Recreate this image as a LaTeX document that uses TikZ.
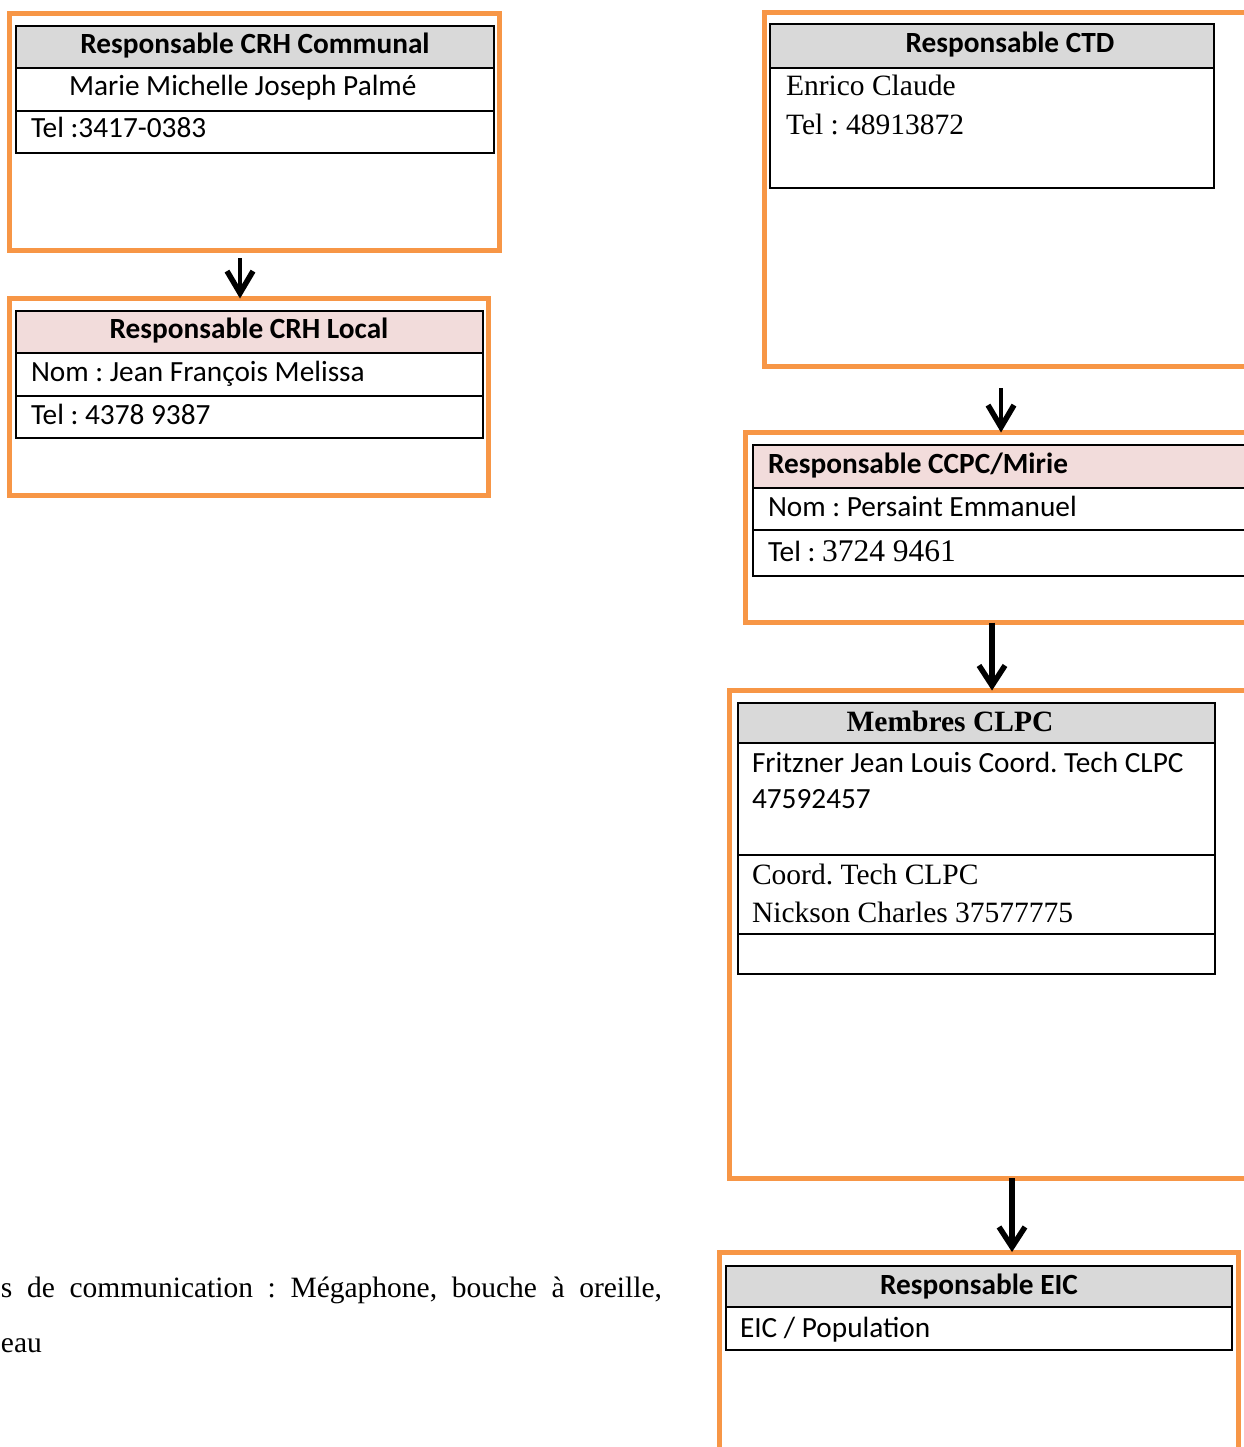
\documentclass[tikz,border=0pt]{standalone}
\usepackage{fontspec}
\setmainfont{Carlito}
\newfontfamily\tnr{Liberation Serif}
\usetikzlibrary{arrows.meta}
\frenchspacing
\definecolor{frameorange}{HTML}{F79646}
\definecolor{headgray}{HTML}{D9D9D9}
\definecolor{headpink}{HTML}{F2DCDB}
\tikzset{
  frame/.style={draw=frameorange, line width=5pt, rectangle, inner sep=0pt, outer sep=0pt, anchor=north west},
  cell/.style={draw=black, line width=2pt, rectangle, inner sep=0pt, outer sep=0pt, anchor=north west},
  hgray/.style={cell, fill=headgray},
  hpink/.style={cell, fill=headpink},
  txt/.style={inner sep=0pt, outer sep=0pt, font=\fontsize{29.3}{34}\selectfont},
  txtb/.style={txt, font=\fontsize{29.3}{34}\selectfont\bfseries},
  ser/.style={inner sep=0pt, outer sep=0pt, font=\fontsize{29.5}{34}\selectfont\tnr},
  serb/.style={ser, font=\fontsize{29.5}{34}\selectfont\tnr\bfseries},
  arr/.style={line width=4.5pt, -{Straight Barb[length=22pt,width=26pt,line width=5.5pt]}},
  arrb/.style={line width=5.5pt, -{Straight Barb[length=20pt,width=26pt,line width=5.5pt]}}
}
\begin{document}
\begin{tikzpicture}[x=1pt,y=-1pt]
\useasboundingbox (0,0) rectangle (1243,1447);
% ---------- Frame 1 : CRH Communal
\node[frame, minimum width=489.5pt, minimum height=237pt] (f1) at (9.5,13.5) {};
\node[hgray, minimum width=478pt, minimum height=42pt] (t1h) at (16,26) {};
\node[cell, minimum width=478pt, minimum height=43pt] (t1r1) at (16,68) {};
\node[cell, minimum width=478pt, minimum height=42pt] (t1r2) at (16,111) {};
\node[txtb, anchor=base] (t1ht) at (255,54) {Responsable CRH Communal};
\node[txt, anchor=base west] (t1a) at (69,96) {Marie Michelle Joseph Palmé};
\node[txt, anchor=base west] (t1b) at (31,138) {Tel :3417-0383};
% ---------- Frame 2 : CRH Local
\node[frame, minimum width=478.5pt, minimum height=197pt] (f2) at (9.5,298.5) {};
\node[hpink, minimum width=467pt, minimum height=42pt] (t2h) at (16,311) {};
\node[cell, minimum width=467pt, minimum height=43pt] (t2r1) at (16,353) {};
\node[cell, minimum width=467pt, minimum height=42pt] (t2r2) at (16,396) {};
\node[txtb, anchor=base] (t2ht) at (249,338) {Responsable CRH Local};
\node[txt, anchor=base west] (t2a) at (31,381) {Nom : Jean François Melissa};
\node[txt, anchor=base west] (t2b) at (31,424) {Tel : 4378 9387};
% ---------- Frame 3 : CTD
\node[frame, minimum width=520pt, minimum height=353pt] (f3) at (764,13) {};
\node[hgray, minimum width=444pt, minimum height=44pt] (t3h) at (770,24.5) {};
\node[cell, minimum width=444pt, minimum height=120pt] (t3r1) at (770,68) {};
\node[txtb, anchor=base] (t3ht) at (1010,53) {Responsable CTD};
\node[ser, anchor=base west] (t3a) at (786,96) {Enrico Claude};
\node[ser, anchor=base west] (t3b) at (786,135) {Tel : 48913872};
% ---------- Frame 4 : CCPC
\node[frame, minimum width=540pt, minimum height=190pt] (f4) at (745.5,432.5) {};
\node[hpink, minimum width=540pt, minimum height=43pt] (t4h) at (752.5,444.5) {};
\node[cell, minimum width=540pt, minimum height=42pt] (t4r1) at (752.5,487.5) {};
\node[cell, minimum width=540pt, minimum height=46pt] (t4r2) at (752.5,529.5) {};
\node[txtb, anchor=base west] (t4ht) at (768,473) {Responsable CCPC/Mirie};
\node[txt, anchor=base west] (t4a) at (768,516) {Nom : Persaint Emmanuel};
\node[txt, anchor=base west] (t4b) at (768,561) {Tel : {\tnr\fontsize{31.5}{34}\selectfont 3724 9461}};
% ---------- Frame 5 : CLPC
\node[frame, minimum width=560pt, minimum height=488pt] (f5) at (729.5,690.5) {};
\node[hgray, minimum width=477pt, minimum height=40pt] (t5h) at (737.5,703) {};
\node[cell, minimum width=477pt, minimum height=112pt] (t5r1) at (737.5,743) {};
\node[cell, minimum width=477pt, minimum height=79pt] (t5r2) at (737.5,855) {};
\node[cell, minimum width=477pt, minimum height=40pt] (t5r3) at (737.5,934) {};
\node[serb, anchor=base] (t5ht) at (950,731) {Membres CLPC};
\node[txt, anchor=base west] (t5a) at (752,772) {Fritzner Jean Louis Coord. Tech CLPC};
\node[txt, anchor=base west] (t5b) at (752,808) {47592457};
\node[ser, anchor=base west] (t5c) at (752,884) {Coord. Tech CLPC};
\node[ser, anchor=base west] (t5d) at (752,922) {Nickson Charles 37577775};
% ---------- Frame 6 : EIC
\node[frame, minimum width=519pt, minimum height=260pt] (f6) at (719.5,1252) {};
\node[hgray, minimum width=506pt, minimum height=41pt] (t6h) at (726,1266) {};
\node[cell, minimum width=506pt, minimum height=43pt] (t6r1) at (726,1307) {};
\node[txtb, anchor=base] (t6ht) at (979,1294) {Responsable EIC};
\node[txt, anchor=base west] (t6a) at (740,1337) {EIC / Population};
% ---------- Bottom-left text
\node[ser, anchor=base west] (bt1) at (1,1297) {\makebox[661pt][s]{s de communication : Mégaphone, bouche à oreille,}};
\node[ser, anchor=base west] (bt2) at (1,1352) {eau};
% ---------- Connectors
\coordinate (a1) at (240,258);
\coordinate (a3) at (1001,388);
\coordinate (a4) at (992,622.5);
\coordinate (a5) at (1012,1178);
\draw[arr] (a1) -- (a1 |- f2.north);
\draw[arr] (a3) -- (a3 |- f4.north);
\draw[arrb] (a4) -- (a4 |- f5.north);
\draw[arrb] (a5) -- (a5 |- f6.north);
\end{tikzpicture}
\end{document}
